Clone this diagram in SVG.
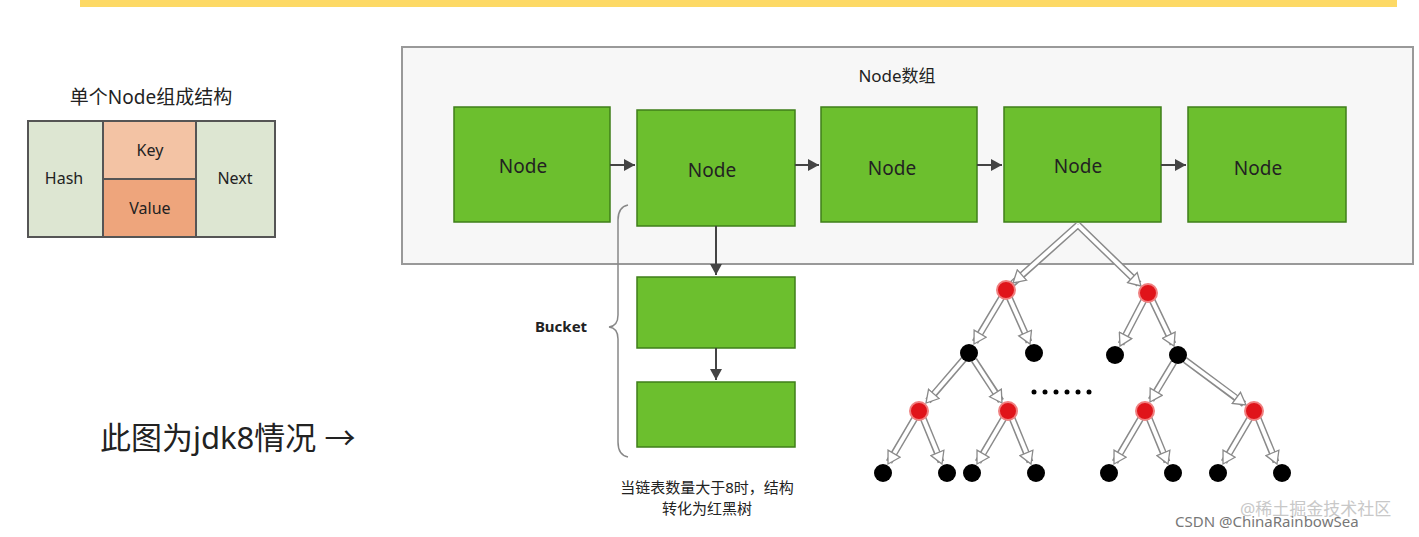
<svg xmlns="http://www.w3.org/2000/svg" width="1419" height="537" viewBox="0 0 1419 537">
<style>
text{font-family:"Noto Sans","Noto Sans CJK SC",sans-serif;fill:#222}
.n rect{fill:#6cbf2e;stroke:#3f7f1a;stroke-width:1.5}
.n text{font-size:19px;text-anchor:middle}
.o{stroke:#8a8a8a;stroke-width:7;fill:none}
.i{stroke:#fff;stroke-width:4;fill:none;marker-end:url(#h)}
.r{fill:#e0141a;stroke:#f08080;stroke-width:2}
.b{fill:#000}
</style>
<defs>
<marker id="h" markerUnits="userSpaceOnUse" markerWidth="16" markerHeight="16" refX="13" refY="8" orient="auto">
<path d="M1,1 L13,8 L1,15 Z" fill="#fff" stroke="#8a8a8a" stroke-width="1.3"/>
</marker>
<marker id="a" markerUnits="userSpaceOnUse" markerWidth="12" markerHeight="12" refX="11" refY="6" orient="auto">
<path d="M0,0 L11,6 L0,12 Z" fill="#444"/>
</marker>
</defs>
<rect x="80" y="0" width="1317" height="7" fill="#fdd965"/>
<g id="single-node">
<text x="151" y="104" font-size="19" text-anchor="middle">单个Node组成结构</text>
<rect x="28" y="121" width="75" height="116" fill="#dde6d2" stroke="#555" stroke-width="2"/>
<rect x="103" y="121" width="93" height="58" fill="#f3c3a4" stroke="#555" stroke-width="2"/>
<rect x="103" y="179" width="93" height="58" fill="#eea57c" stroke="#555" stroke-width="2"/>
<rect x="196" y="121" width="79" height="116" fill="#dde6d2" stroke="#555" stroke-width="2"/>
<text x="64" y="184" font-size="16" text-anchor="middle">Hash</text>
<text x="150" y="156" font-size="16" text-anchor="middle">Key</text>
<text x="150" y="214" font-size="16" text-anchor="middle">Value</text>
<text x="235" y="184" font-size="16" text-anchor="middle">Next</text>
</g>
<g id="container">
<rect x="402" y="47" width="1011" height="217" fill="#f7f7f7" stroke="#999" stroke-width="2"/>
<text x="897" y="82" font-size="17" text-anchor="middle">Node数组</text>
</g>
<g id="node1" class="n"><rect x="454" y="107" width="156" height="115"/><text x="523" y="173">Node</text></g>
<g id="node2" class="n"><rect x="637" y="110" width="158" height="116"/><text x="712" y="177">Node</text></g>
<g id="node3" class="n"><rect x="821" y="107" width="156" height="115"/><text x="892" y="175">Node</text></g>
<g id="node4" class="n"><rect x="1004" y="107" width="157" height="115"/><text x="1078" y="173">Node</text></g>
<g id="node5" class="n"><rect x="1188" y="107" width="158" height="115"/><text x="1258" y="175">Node</text></g>
<g id="bucket1" class="n"><rect x="637" y="277" width="158" height="71"/></g>
<g id="bucket2" class="n"><rect x="637" y="382" width="158" height="65"/></g>
<g id="bucket-label">
<text x="561" y="332" font-size="15" font-weight="bold" text-anchor="middle">Bucket</text>
<path d="M628,205 Q618,207 618,220 L618,315 Q618,326 609,327 Q618,328 618,339 L618,442 Q618,455 628,457" fill="none" stroke="#888" stroke-width="1.5"/>
<text x="707" y="493" font-size="15" text-anchor="middle">当链表数量大于8时，结构</text>
<text x="707" y="514" font-size="15" text-anchor="middle">转化为红黑树</text>
</g>
<g id="connectors">
<g stroke="#444" stroke-width="2" fill="none">
<line x1="610" y1="165" x2="635" y2="165" marker-end="url(#a)"/>
<line x1="795" y1="165" x2="819" y2="165" marker-end="url(#a)"/>
<line x1="977" y1="165" x2="1002" y2="165" marker-end="url(#a)"/>
<line x1="1161" y1="165" x2="1186" y2="165" marker-end="url(#a)"/>
<line x1="716" y1="226" x2="716" y2="275" marker-end="url(#a)"/>
<line x1="716" y1="348" x2="716" y2="380" marker-end="url(#a)"/>
</g>
<g id="tree-edges">
<path class="o" d="M1078,225 L1011,285 M1078,225 L1139,284 M1002,297 L975,342 M1009,297 L1029,342 M1144,300 L1121,344 M1152,300 L1173,344 M964,359 L928,401 M974,360 L1001,401 M1174,362 L1151,400 M1185,360 L1244,404 M915,418 L889,462 M923,418 L941,462 M1004,418 L978,462 M1012,418 L1030,462 M1141,418 L1115,462 M1149,418 L1167,462 M1250,418 L1224,462 M1258,418 L1276,462"/>
<path class="i" d="M1078,225 L1013,283"/><path class="i" d="M1078,225 L1141,286"/>
<path class="i" d="M1002,297 L974,344"/><path class="i" d="M1009,297 L1030,344"/>
<path class="i" d="M1144,300 L1120,346"/><path class="i" d="M1152,300 L1174,346"/>
<path class="i" d="M964,359 L926,403"/><path class="i" d="M974,360 L1002,403"/>
<path class="i" d="M1174,362 L1150,402"/><path class="i" d="M1185,360 L1246,405"/>
<path class="i" d="M915,418 L888,464"/><path class="i" d="M923,418 L942,464"/>
<path class="i" d="M1004,418 L977,464"/><path class="i" d="M1012,418 L1031,464"/>
<path class="i" d="M1141,418 L1114,464"/><path class="i" d="M1149,418 L1168,464"/>
<path class="i" d="M1250,418 L1223,464"/><path class="i" d="M1258,418 L1277,464"/>
</g>
</g>
<g id="tree-nodes">
<circle class="r" cx="1006" cy="290" r="9"/><circle class="r" cx="1148" cy="293" r="9"/>
<circle class="b" cx="969" cy="353" r="9"/><circle class="b" cx="1034" cy="353" r="9"/>
<circle class="b" cx="1115" cy="355" r="9"/><circle class="b" cx="1178" cy="355" r="9"/>
<circle class="r" cx="919" cy="411" r="9"/><circle class="r" cx="1008" cy="411" r="9"/>
<circle class="r" cx="1145" cy="411" r="9"/><circle class="r" cx="1254" cy="411" r="9"/>
<circle class="b" cx="883" cy="473" r="9"/><circle class="b" cx="947" cy="473" r="9"/>
<circle class="b" cx="972" cy="473" r="9"/><circle class="b" cx="1036" cy="473" r="9"/>
<circle class="b" cx="1109" cy="473" r="9"/><circle class="b" cx="1173" cy="473" r="9"/>
<circle class="b" cx="1218" cy="473" r="9"/><circle class="b" cx="1282" cy="473" r="9"/>
<g class="b"><circle cx="1034" cy="392" r="2.5"/><circle cx="1045" cy="392" r="2.5"/><circle cx="1056" cy="392" r="2.5"/><circle cx="1067" cy="392" r="2.5"/><circle cx="1078" cy="392" r="2.5"/><circle cx="1089" cy="392" r="2.5"/></g>
</g>
<text x="100" y="449" font-size="31">此图为jdk8情况 →</text>
<text x="1240" y="515" font-size="17" fill="#bbb" style="fill:#c8c8c8">@稀土掘金技术社区</text>
<text x="1175" y="527" font-size="15" style="fill:#777">CSDN @ChinaRainbowSea</text>
</svg>
